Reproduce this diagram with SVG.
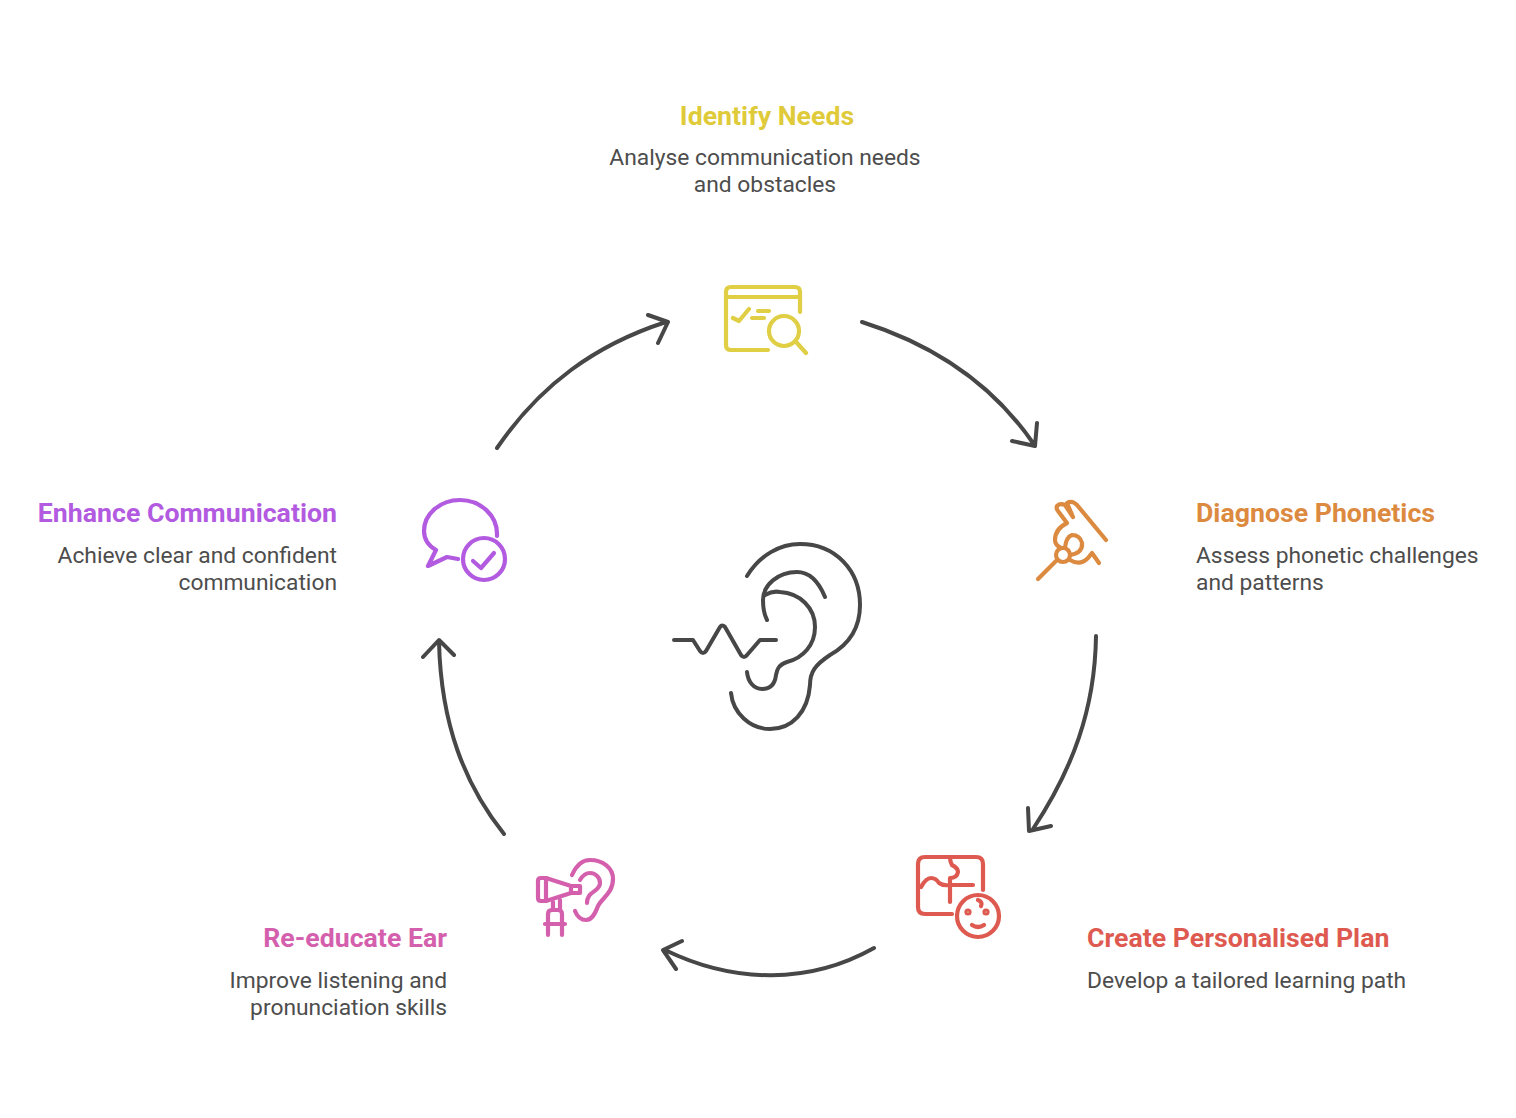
<svg xmlns="http://www.w3.org/2000/svg" width="1516" height="1118" viewBox="0 0 1516 1118">
<style>
text{font-family:"Roboto","Liberation Sans",sans-serif}
.h{font-size:26.7px;font-weight:700}
.b{font-size:22.8px;fill:#4d4d4d}
.m{text-anchor:middle}.e{text-anchor:end}
.i{fill:none;stroke-width:4.2;stroke-linecap:round;stroke-linejoin:round}
.a{fill:none;stroke:#474747;stroke-width:4;stroke-linecap:round;stroke-linejoin:round}
</style>
<rect width="1516" height="1118" fill="#fff"/>
<g id="connectors">
<path class="a" d="M862 322C935 345 993 385 1033 443M1012 441L1035 446L1037 423"/>
<path class="a" d="M1096 636C1095 710 1072 770 1033 829M1028 808L1029 831L1051 826"/>
<path class="a" d="M874 948C810 984 735 984 665 950M682 941L663 950L676 969"/>
<path class="a" d="M504 834C465 785 441 725 439 642M423 657L439 640L454 655"/>
<path class="a" d="M497 448C540 385 595 345 666 322M648 315L668 322L658 343"/>
</g>
<g id="center-ear">
<path class="a" d="M747 576C760 555 780 544 800 544C835 544 860 570 860 605C860 630 848 645 830 655C815 665 810 672 810 685C808 712 792 729 770 729C750 729 733 713 731 693"/>
<path class="a" d="M825 597C818 580 808 572 797 572C778 572 763 585 763 600C763 608 764 614 767 620"/>
<path class="a" d="M765 595C770 592 775 591 780 592C800 593 815 608 815 627C815 645 803 658 787 662C778 665 777 670 776 675C775 684 770 689 762 689C754 689 748 682 747 672"/>
<path class="a" d="M674 640H693L700 651Q703 655 706 651L720 627Q722 624 725 627L741 655Q744 659 747 655L760 640H776"/>
</g>
<g id="identify-needs">
<text class="h m" x="767" y="124.500" fill="#dfcb3a">Identify Needs</text>
<text class="b m" x="765" y="164.500">Analyse communication needs</text>
<text class="b m" x="765" y="191.500">and obstacles</text>
<g class="i" stroke="#e0cf45">
<path d="M768 350H731Q726 350 726 345V292Q726 287 731 287H795Q800 287 800 292V312"/>
<path d="M726 297H800M733 318L739 321L749 309M758 311H769M752 318H764M797 343L806 353"/>
<circle cx="784" cy="331" r="15"/>
</g>
</g>
<g id="diagnose-phonetics">
<text class="h" x="1196" y="521.500" fill="#dc8a40">Diagnose Phonetics</text>
<text class="b" x="1196" y="562.500">Assess phonetic challenges</text>
<text class="b" x="1196" y="589.500">and patterns</text>
<g class="i" stroke="#dc8a40">
<path d="M1038 579L1056 561"/>
<circle cx="1063" cy="555" r="7"/>
<path d="M1106 540L1077 505Q1072 500 1067 503L1073 517L1065 505Q1060 503 1057 506Q1056 509 1058 511L1067 523Q1055 529 1055 540Q1055 545 1061 548"/>
<path d="M1065 548Q1066 537 1072 535Q1080 535 1082 543Q1083 553 1070 555"/>
<path d="M1070 560Q1080 566 1088 558L1092 553L1099 563"/>
</g>
</g>
<g id="create-personalised-plan">
<text class="h" x="1087" y="946.500" fill="#de5a50">Create Personalised Plan</text>
<text class="b" x="1087" y="987.500">Develop a tailored learning path</text>
<g class="i" stroke="#de5a50">
<path d="M952 914H925Q918 914 918 907V864Q918 857 925 857H976Q983 857 983 864V890"/>
<path d="M921 887Q926 878 931 878Q936 878 939 883Q943 886 950 885H973"/>
<path d="M950 902V878Q957 878 958 872Q958 868 952 865Q950 862 950 857"/>
<circle cx="978" cy="916" r="21"/>
<path d="M978 900Q983 902 981 906M972 925Q978 929 984 925"/>
<circle cx="968" cy="912" r="1.5"/><circle cx="986" cy="912" r="1.5"/>
</g>
</g>
<g id="re-educate-ear">
<text class="h e" x="447" y="946.500" fill="#d460ad">Re-educate Ear</text>
<text class="b e" x="447" y="987.500">Improve listening and</text>
<text class="b e" x="447" y="1014.500">pronunciation skills</text>
<g class="i" stroke="#d460ad">
<path d="M541 878H546L571 886V893L546 901H541Q538 901 538 898V881Q538 878 541 878Z"/>
<path d="M546 878V901M571 886H580V893H571M553 902V910M560 900V910M548 935V914Q548 910 552 910H558Q562 910 562 914V935M545 924H565"/>
<path d="M572 875C576 866 582 860 590 860C603 860 613 868 613 879C613 893 602 898 598 906C595 914 592 920 586 920C581 920 577 916 575 911"/>
<path d="M580 880C583 875 586 873 590 873C596 873 600 878 600 883C600 890 592 891 589 896C587 899 587 901 587 903"/>
</g>
</g>
<g id="enhance-communication">
<text class="h e" x="337" y="521.500" fill="#b25ae0">Enhance Communication</text>
<text class="b e" x="337" y="562.500">Achieve clear and confident</text>
<text class="b e" x="337" y="589.500">communication</text>
<g class="i" stroke="#b25ae0">
<path d="M497 536C498 515 480 500 460 500C440 500 424 514 424 531C424 540 429 546 436 550L428 566L447 557L458 559"/>
<circle cx="484" cy="559" r="21"/>
<path d="M473 561L481 568L494 553"/>
</g>
</g>
</svg>
